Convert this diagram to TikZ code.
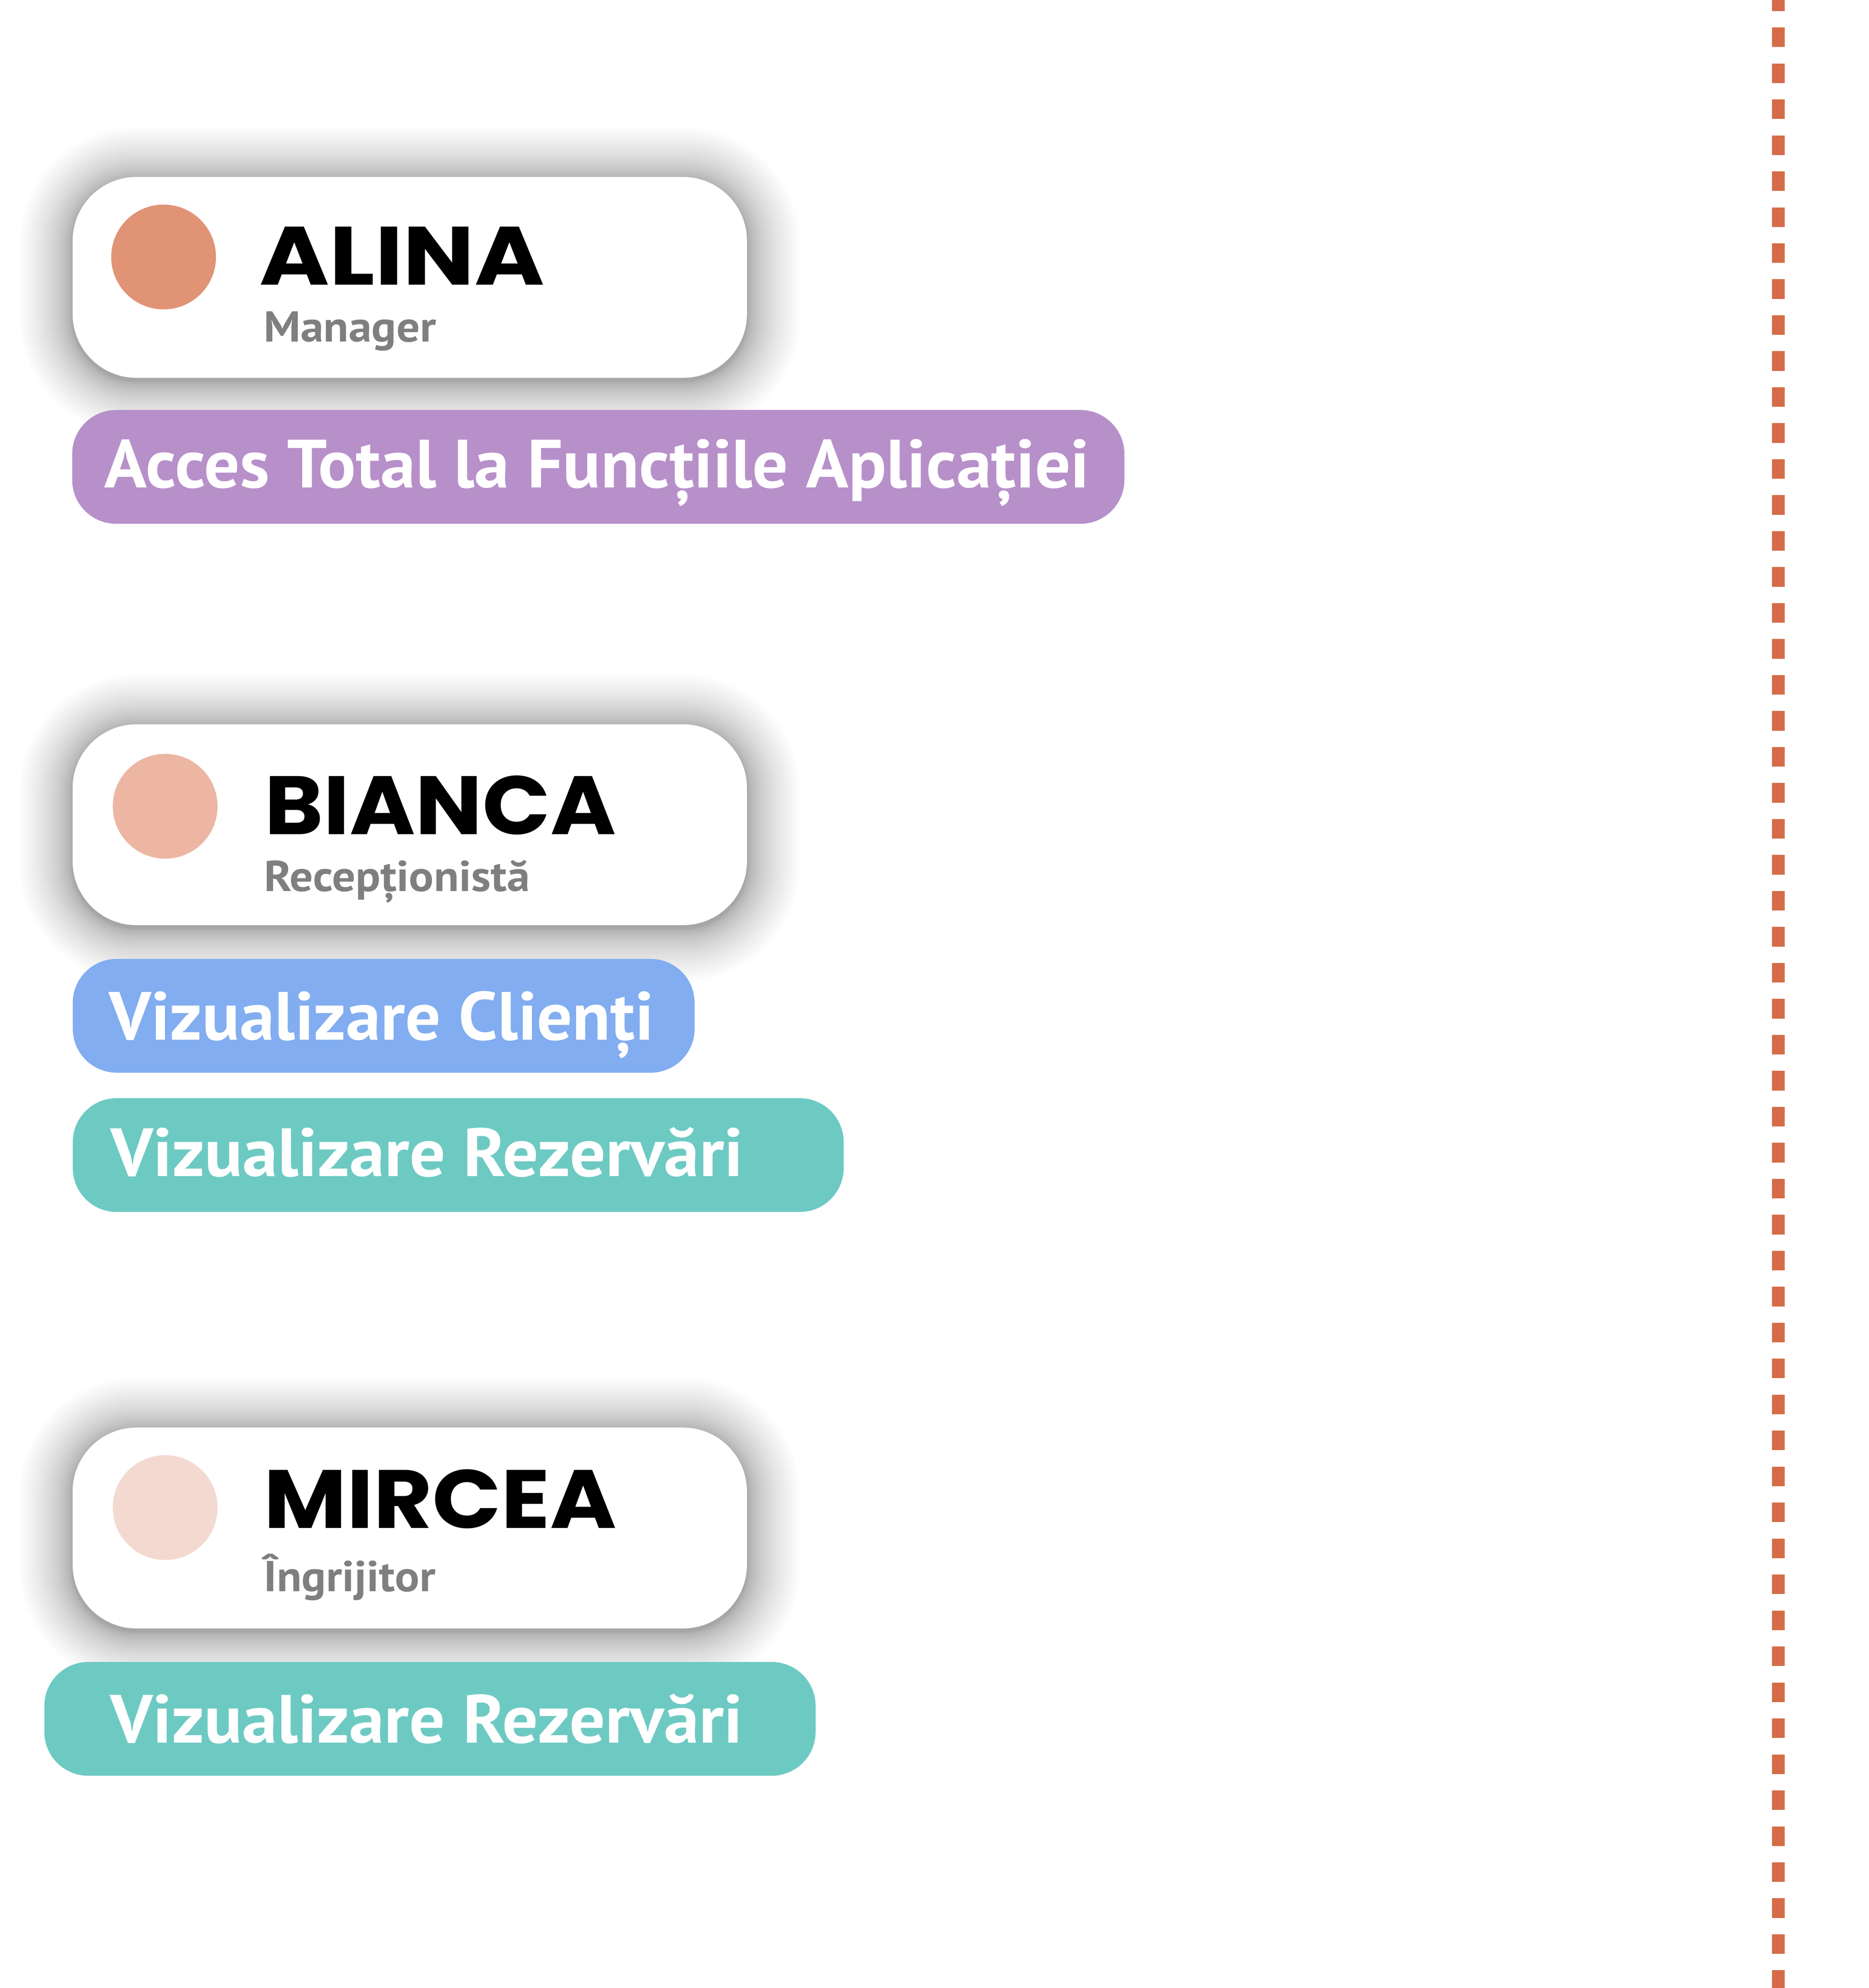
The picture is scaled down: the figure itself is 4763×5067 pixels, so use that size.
\documentclass[tikz,border=0pt]{standalone}
\usepackage{fontspec}
\setmainfont{PT Sans}
\newfontfamily\namefont{Poppins Bold}
\newfontfamily\labfont{PT Sans Bold}
\definecolor{dotA}{HTML}{E19376}
\definecolor{dotB}{HTML}{ECB6A3}
\definecolor{dotC}{HTML}{F3D9D0}
\definecolor{pillPurple}{HTML}{B790CA}
\definecolor{pillBlue}{HTML}{82ADF0}
\definecolor{pillTeal}{HTML}{6DCAC3}
\definecolor{dashCol}{HTML}{D56C47}
\definecolor{subGray}{HTML}{7F7F7F}
\pgfdeclarelayer{bglayer}
\pgfdeclarelayer{shadowlayer}
\pgfsetlayers{bglayer,shadowlayer,main}
\tikzset{
  card/.style={rectangle, fill=white, rounded corners=163pt, minimum width=1719pt, minimum height=512pt, inner sep=0pt},
  dot/.style={circle, inner sep=0pt, minimum size=267pt},
  pill/.style={rectangle, rounded corners=112pt, minimum height=290pt, inner sep=0pt},
  nametext/.style={anchor=base west, inner sep=0pt, font=\namefont\fontsize{211}{211}\selectfont, text=black},
  roletext/.style={anchor=base west, inner sep=0pt, font=\labfont\fontsize{110}{110}\selectfont, text=subGray},
  pilltext/.style={anchor=base west, inner sep=0pt, font=\labfont\fontsize{174}{174}\selectfont, text=white},
  shadowlayerstyle/.style={fill=black, fill opacity=0.011},
}
% name text with no depth, stretched horizontally
\newcommand\nmbox[2]{\raisebox{0pt}[\height][0pt]{\scalebox{#1}[1]{#2}}}
\newcommand\softshadow[1]{%
  \begin{pgfonlayer}{shadowlayer}
  \foreach \k in {1,...,30}{%
    \pgfmathsetmacro\dd{135*(\k/30)^1.7}%
    \pgfmathsetmacro\rr{163+\dd}%
    \fill[shadowlayerstyle, rounded corners=\rr pt]
      ([shift={(-\dd pt,\dd pt-8pt)}]#1.north west) rectangle ([shift={(\dd pt,-\dd pt-8pt)}]#1.south east);
  }%
  \end{pgfonlayer}}
\begin{document}
\begin{tikzpicture}[x=1pt,y=-1pt]
\useasboundingbox (0,0) rectangle (4763,5067);
\begin{pgfonlayer}{bglayer}
\fill[white] (0,0) rectangle (4763,5067);
\end{pgfonlayer}
% dashed divider
\coordinate (dtop) at (4533,0);
\coordinate (dbot) at (4533,5067);
\draw[dashCol, line width=33pt, dash pattern=on 50pt off 41.7pt, dash phase=21.7pt] (dtop) -- (dbot);

% ALINA
\node[card] (alina) at (1044.5,707) {};
\softshadow{alina}
\node[dot, fill=dotA] (alinadot) at (417,655) {};
\node[nametext] (alinaname) at (661,726) {\nmbox{1.15}{ALINA}};
\node[roletext] (alinarole) at (672,871) {\scalebox{1.07}[1]{Manager}};
\node[pill, fill=pillPurple, minimum width=2682pt] (alinapill) at (1525,1190) {};
\node[pilltext] (alinaacc) at (266,1243) {\scalebox{1.03}[1]{Acces Total la Funcțiile Aplicației}};

% BIANCA
\node[card] (bianca) at (1044.5,2102) {};
\softshadow{bianca}
\node[dot, fill=dotB] (biancadot) at (421,2055) {};
\node[nametext] (biancaname) at (674,2127) {\nmbox{1.078}{BIANCA}};
\node[roletext] (biancarole) at (673,2271) {\scalebox{1.07}[1]{Recepționistă}};
\node[pill, fill=pillBlue, minimum width=1585pt] (biancapill1) at (978,2589) {};
\node[pilltext] (biancaacc1) at (278,2651) {\scalebox{1.025}[1]{Vizualizare Clienți}};
\node[pill, fill=pillTeal, minimum width=1965pt] (biancapill2) at (1168,2944) {};
\node[pilltext] (biancaacc2) at (282,2998) {\scalebox{1.035}[1]{Vizualizare Rezervări}};

% MIRCEA
\node[card] (mircea) at (1044.5,3894.5) {};
\softshadow{mircea}
\node[dot, fill=dotC] (mirceadot) at (421,3842.5) {};
\node[nametext] (mirceaname) at (672,3895) {\nmbox{1.092}{MIRCEA}};
\node[roletext] (mircearole) at (672,4056) {\scalebox{1.06}[1]{Îngrijitor}};
\node[pill, fill=pillTeal, minimum width=1966pt] (mirceapill) at (1096,4381) {};
\node[pilltext] (mirceaacc) at (281,4442) {\scalebox{1.035}[1]{Vizualizare Rezervări}};
\end{tikzpicture}
\end{document}
